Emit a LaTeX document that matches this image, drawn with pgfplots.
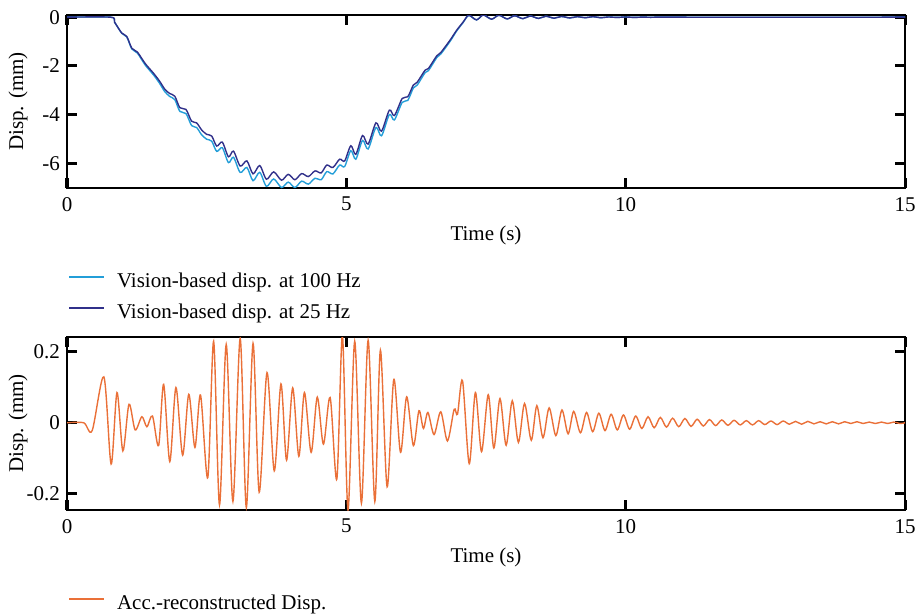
\documentclass[border=0pt]{standalone}
\usepackage{fontspec}
\setmainfont{Liberation Serif}
\usepackage{pgfplots}
\pgfplotsset{compat=1.18}
\definecolor{lblue}{RGB}{35,158,216}
\definecolor{dblue}{RGB}{48,48,138}
\definecolor{orng}{RGB}{234,112,56}
\newcommand\ff{\fontsize{21bp}{25bp}\selectfont}
\pgfplotstableread{
t v
0 0
0.78 0
0.85 -0.2
0.98 -0.65
1.07 -0.79
1.16 -1.27
1.26 -1.43
1.40 -1.90
1.55 -2.30
1.66 -2.63
1.75 -2.95
1.84 -3.13
1.93 -3.24
2.02 -3.71
2.13 -3.78
2.23 -4.26
2.32 -4.33
2.41 -4.62
2.50 -4.80
2.59 -4.87
2.68 -5.28
2.78 -5.12
2.89 -5.72
2.98 -5.49
3.10 -6.10
3.22 -5.89
3.33 -6.42
3.45 -6.08
3.57 -6.64
3.70 -6.34
3.84 -6.68
3.96 -6.44
4.08 -6.66
4.20 -6.41
4.32 -6.53
4.44 -6.30
4.55 -6.38
4.65 -6.06
4.76 -6.16
4.88 -5.82
4.97 -5.89
5.08 -5.27
5.17 -5.62
5.29 -4.85
5.39 -5.20
5.53 -4.33
5.63 -4.67
5.77 -3.81
5.86 -4.03
6.00 -3.33
6.10 -3.26
6.20 -2.78
6.27 -2.66
6.41 -2.17
6.47 -2.10
6.62 -1.58
6.69 -1.45
6.86 -0.93
6.97 -0.55
7.09 -0.20
7.19 0.08
7.33 -0.11
7.45 0.09
7.60 -0.08
7.73 0.08
7.88 -0.07
8.01 0.06
8.16 -0.06
8.29 0.05
8.44 -0.05
8.57 0.04
8.72 -0.04
8.85 0.03
9.00 -0.03
9.13 0.02
9.28 -0.02
9.41 0.02
9.56 -0.02
9.69 0.01
9.84 -0.01
10.00 0.01
10.15 -0.01
10.30 0.005
10.45 -0.005
10.60 0.005
11.00 0
15 0
}\darkdata
\pgfplotstableread{
t v
0 0
0.78 0
0.85 -0.2
0.98 -0.66
1.07 -0.81
1.16 -1.30
1.26 -1.47
1.40 -1.96
1.55 -2.37
1.66 -2.72
1.75 -3.05
1.84 -3.25
1.93 -3.38
2.02 -3.86
2.13 -3.95
2.23 -4.44
2.32 -4.52
2.41 -4.82
2.50 -5.00
2.59 -5.08
2.68 -5.50
2.78 -5.35
2.89 -5.96
2.98 -5.74
3.10 -6.36
3.22 -6.16
3.33 -6.70
3.45 -6.36
3.57 -6.93
3.70 -6.63
3.84 -6.98
3.96 -6.76
4.08 -6.98
4.20 -6.72
4.32 -6.84
4.44 -6.60
4.55 -6.66
4.65 -6.33
4.76 -6.42
4.88 -6.06
4.97 -6.12
5.08 -5.47
5.17 -5.82
5.29 -5.05
5.39 -5.40
5.53 -4.52
5.63 -4.86
5.77 -3.99
5.86 -4.21
6.00 -3.49
6.10 -3.41
6.20 -2.90
6.27 -2.78
6.41 -2.27
6.47 -2.19
6.62 -1.65
6.69 -1.51
6.86 -0.98
6.97 -0.58
7.09 -0.22
7.19 0.07
7.33 -0.11
7.45 0.09
7.60 -0.08
7.73 0.08
7.88 -0.07
8.01 0.06
8.16 -0.06
8.29 0.05
8.44 -0.05
8.57 0.04
8.72 -0.04
8.85 0.03
9.00 -0.03
9.13 0.02
9.28 -0.02
9.41 0.02
9.56 -0.02
9.69 0.01
9.84 -0.01
10.00 0.01
10.15 -0.01
10.30 0.005
10.45 -0.005
10.60 0.005
11.00 0
15 0
}\lightdata
\pgfplotstableread{
t v
0 0
0.30 0
0.45 -0.022
0.66 0.129
0.79 -0.116
0.895 0.085
1.00 -0.079
1.11 0.052
1.22 -0.020
1.34 0.017
1.43 -0.011
1.53 0.019
1.64 -0.064
1.73 0.108
1.84 -0.109
1.95 0.099
2.07 -0.091
2.18 0.080
2.29 -0.069
2.39 0.078
2.52 -0.154
2.625 0.229
2.73 -0.231
2.85 0.220
2.97 -0.221
3.10 0.237
3.21 -0.238
3.33 0.223
3.44 -0.195
3.58 0.141
3.71 -0.135
3.83 0.109
3.93 -0.105
4.04 0.098
4.15 -0.094
4.25 0.085
4.37 -0.083
4.48 0.072
4.59 -0.060
4.71 0.071
4.83 -0.158
4.93 0.245
5.03 -0.245
5.15 0.229
5.27 -0.226
5.39 0.232
5.51 -0.221
5.61 0.204
5.73 -0.180
5.85 0.122
5.97 -0.083
6.08 0.073
6.20 -0.064
6.30 0.034
6.38 -0.016
6.46 0.029
6.57 -0.033
6.69 0.031
6.81 -0.051
6.93 0.038
6.99 0.024
7.08 0.118
7.20 -0.115
7.31 0.085
7.42 -0.081
7.54 0.079
7.64 -0.071
7.75 0.068
7.86 -0.063
7.97 0.062
8.08 -0.055
8.19 0.054
8.31 -0.049
8.41 0.048
8.52 -0.042
8.63 0.042
8.75 -0.036
8.86 0.036
8.97 -0.031
9.07 0.032
9.19 -0.028
9.30 0.029
9.41 -0.025
9.52 0.027
9.63 -0.022
9.74 0.024
9.85 -0.020
9.96 0.022
10.07 -0.018
10.18 0.019
10.29 -0.016
10.40 0.017
10.51 -0.014
10.62 0.015
10.73 -0.012
10.84 0.013
10.95 -0.011
11.06 0.012
11.17 -0.010
11.28 0.010
11.39 -0.009
11.50 0.009
11.61 -0.008
11.72 0.008
11.83 -0.007
11.94 0.007
12.05 -0.006
12.16 0.006
12.27 -0.006
12.38 0.006
12.49 -0.005
12.60 0.005
12.71 -0.005
12.82 0.005
12.93 -0.004
13.04 0.004
13.15 -0.004
13.26 0.004
13.37 -0.003
13.48 0.003
13.59 -0.003
13.70 0.003
13.81 -0.003
13.92 0.003
14.03 -0.002
14.14 0.003
14.25 -0.002
14.36 0.002
14.47 -0.002
14.58 0.002
14.69 -0.002
14.80 0.002
14.91 -0.002
15.00 0
}\accdata
\begin{document}
\ff
\begin{tikzpicture}
\useasboundingbox (0,0) rectangle (917bp,-614bp);
\pgfplotsset{
  myaxis/.style={
    scale only axis, width=838bp, height=173bp,
    anchor=north west,
    xmin=0, xmax=15, xtick={0,5,10,15},
    tick align=inside,
    axis line style={line width=2bp},
    major tick length=10bp,
    every tick/.style={black, line width=3bp},
    /pgf/number format/assume math mode=true,
    tick label style={font=\ff},
    xticklabel style={yshift=-2bp},
    label style={font=\ff},
    xlabel={Time (s)},
    ylabel={Disp. (mm)},
    xlabel style={at={(axis description cs:0.5,-0.275)}, anchor=center},
    ylabel style={at={(axis description cs:-0.0585,0.5)}, anchor=center, rotate=0},
    legend style={draw=none, fill=none, font=\ff, inner sep=0pt,
      at={(axis description cs:0.001,-0.485)}, anchor=north west,
      column sep=12bp, row sep=11bp,
      nodes={inner sep=0pt, text height=15bp, text depth=5bp}},
    legend cell align=left,
    legend image code/.code={\draw[##1, line width=2bp] (0bp,5bp) -- (35bp,5bp);},
  }
}
\begin{axis}[myaxis, at={(67bp,-15bp)},
  ymin=-7, ymax=0.09, ytick={-6,-4,-2,0}]
\addplot[lblue, line width=1.4bp, smooth] table[x=t,y=v] {\lightdata};
\addlegendentry{Vision-based disp. at 100 Hz}
\addplot[dblue, line width=1.4bp, smooth] table[x=t,y=v] {\darkdata};
\addlegendentry{Vision-based disp. at 25 Hz}
\end{axis}
\begin{axis}[myaxis, at={(67bp,-337bp)},
  ymin=-0.245, ymax=0.241, ytick={-0.2,0,0.2}]
\addplot[orng, line width=1.4bp, smooth] table[x=t,y=v] {\accdata};
\addlegendentry{Acc.-reconstructed Disp.}
\end{axis}
\end{tikzpicture}
\end{document}
